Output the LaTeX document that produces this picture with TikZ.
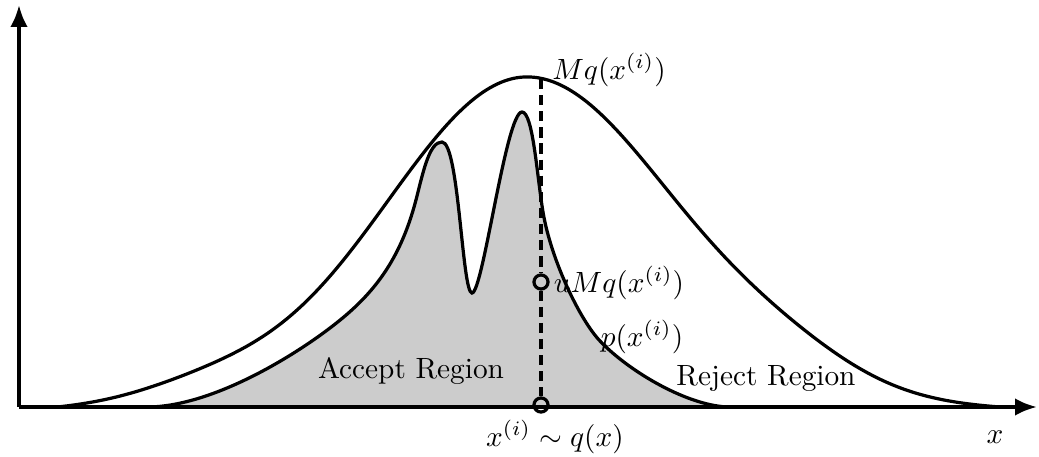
\documentclass[tikz,border=0pt]{standalone}
\usetikzlibrary{arrows.meta}
\tikzset{
  axis/.style={line width=1.3pt,-{Latex[length=7.5pt,width=6pt]}},
  curve/.style={line width=1.1pt},
  dashv/.style={line width=1.2pt,dash pattern=on 3.5pt off 2pt},
  sample/.style={circle,draw,line width=1.1pt,minimum size=4.8pt,inner sep=0pt},
  lbl/.style={inner sep=0pt,font=\normalsize}
}
\def\ppath{(147,407) .. controls (215,407) and (305,350) .. (345,316)
  .. controls (380,286.25) and (403,252) .. (417,196)
  .. controls (424,168) and (430,142) .. (442,142)
  .. controls (459,142) and (462,293) .. (472,293)
  .. controls (483,293) and (506,112) .. (522,112)
  .. controls (533,112) and (537,176) .. (543,212)
  .. controls (551,260) and (580,320) .. (600,341)
  .. controls (630,372.5) and (690,407) .. (730,407)}
\begin{document}
\begin{tikzpicture}[x=0.012cm,y=-0.012cm]
\useasboundingbox (0,0) rectangle (1039,457);
% p region
\fill[black!20] \ppath -- cycle;
\draw[curve] \ppath;
% q curve
\draw[curve] plot[domain=58:527,samples=90,smooth]
  (\x,{407-330*exp(-0.5*((\x-527)/143)^2)-15*exp(-0.5*((\x-207)/70)^2)+3*((\x-527)/469)^4})
  -- plot[domain=527:1000,samples=90,smooth]
  (\x,{407-330*exp(-0.5*((\x-527)/150)^2)-18*exp(-0.5*((\x-790)/70)^2)+2.5*((\x-527)/473)^4});
% axes
\coordinate (O) at (19,407);
\coordinate (Ytip) at (19,5);
\coordinate (Xtip) at (1037,407);
\draw[axis] (O) -- (Ytip);
\draw[axis] (O) -- (Xtip);
% sample line
\coordinate (top) at (541,79);
\node[sample] (u) at (541,282) {};
\node[sample] (xi) at (541,405) {};
\draw[dashv] (top) -- (u) -- (xi);
% labels
\node[lbl] (Mq) at (609,70) {$Mq(x^{(i)})$};
\node[lbl] (uMq) at (619,283) {$uMq(x^{(i)})$};
\node[lbl] (px) at (642,337) {$p(x^{(i)})$};
\node[lbl] (acc) at (411,371) {Accept Region};
\node[lbl] (rej) at (766,379) {Reject Region};
\node[lbl] (xs) at (555,437) {$x^{(i)}\sim q(x)$};
\node[lbl] (xl) at (995,437) {$x$};
\end{tikzpicture}
\end{document}
